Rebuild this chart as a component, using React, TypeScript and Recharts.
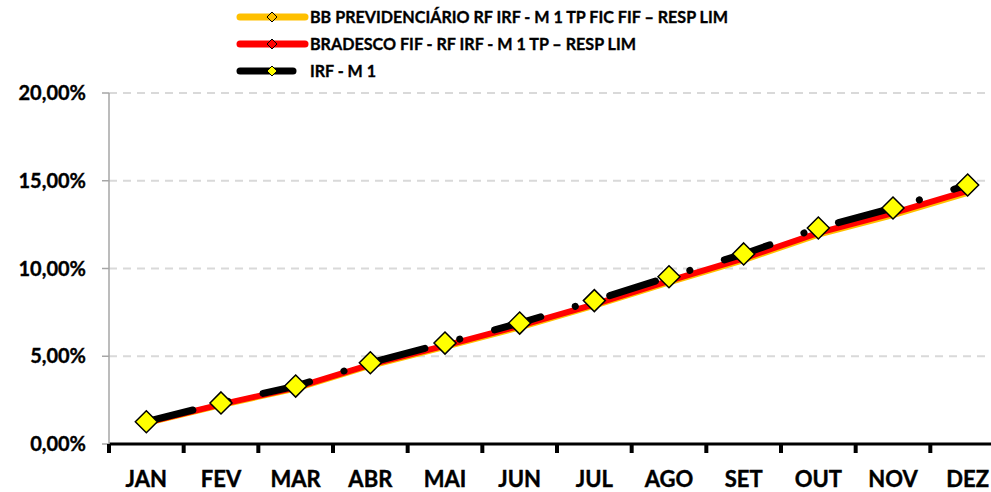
import { LineChart, Line, XAxis, YAxis, CartesianGrid, Legend } from "recharts";

/* ---------- Data ---------- */

const months = ["JAN", "FEV", "MAR", "ABR", "MAI", "JUN", "JUL", "AGO", "SET", "OUT", "NOV", "DEZ"];

const bbPrev = [1.19, 2.22, 3.16, 4.46, 5.54, 6.65, 7.88, 9.21, 10.48, 11.93, 13.04, 14.31];
const bradesco = [1.22, 2.26, 3.21, 4.52, 5.61, 6.73, 7.96, 9.3, 10.58, 12.03, 13.15, 14.42];
const irfm1 = [1.27, 2.34, 3.3, 4.63, 5.75, 6.89, 8.17, 9.53, 10.83, 12.31, 13.45, 14.76];

const yTicks = [0, 5, 10, 15, 20];

const seriesNames = [
  "BB PREVIDENCIÁRIO RF IRF - M 1 TP FIC FIF – RESP LIM",
  "BRADESCO FIF - RF IRF - M 1 TP – RESP LIM",
  "IRF - M 1",
];

// x = centre of each month's slot, so the tick marks can sit on the slot edges
const data = months.map((m, i) => ({
  x: i + 0.5,
  month: m,
  bb: bbPrev[i],
  bradesco: bradesco[i],
  irf: irfm1[i],
}));

const xTicks = Array.from({ length: 25 }, (_, i) => i / 2);

const FONT = "Lato, 'Open Sans', sans-serif";

/* ---------- Pieces ---------- */

const fmtPct = (v: number) => v.toFixed(2).replace(".", ",") + "%";

function MonthTick({ x, y, payload }: any) {
  const v = payload.value as number;
  if (Number.isInteger(v)) {
    return <line x1={x} x2={x} y1={y} y2={y + 9} stroke="#000" strokeWidth={4} />;
  }
  return (
    <text
      x={x}
      y={y + 43}
      textAnchor="middle"
      fontFamily={FONT}
      fontWeight={700}
      fontSize={22}
      fill="#000"
      stroke="#000"
      strokeWidth={0.4}
    >
      {months[Math.floor(v)]}
    </text>
  );
}

function Diamond({ cx, cy, index }: any) {
  const r = 11;
  return (
    <polygon
      key={`d-${index}`}
      points={`${cx},${cy - r} ${cx + r},${cy} ${cx},${cy + r} ${cx - r},${cy}`}
      fill="#FFFF00"
      stroke="#000"
      strokeWidth={1.5}
    />
  );
}

const legendRows = [
  { line: "#FFC000", fill: "#FFC000", end: 69, width: 418 },
  { line: "#FF0000", fill: "#FF0000", end: 69, width: 326 },
  { line: "#000000", fill: "#FFFF00", end: 57, width: 66 },
];

function LegendBox() {
  return (
    <svg width={520} height={85}>
      {legendRows.map((r, i) => {
        const cy = 17 + i * 27;
        return (
          <g key={i}>
            <line x1={4} x2={r.end} y1={cy} y2={cy} stroke={r.line} strokeWidth={7} strokeLinecap="round" />
            <polygon
              points={`36,${cy - 5} 41,${cy} 36,${cy + 5} 31,${cy}`}
              fill={r.fill}
              stroke="#000"
              strokeWidth={1}
            />
            <text
              x={74}
              y={cy + 6}
              fontFamily={FONT}
              fontWeight={700}
              fontSize={17}
              textLength={r.width}
              lengthAdjust="spacingAndGlyphs"
              fill="#000"
              stroke="#000"
              strokeWidth={0.35}
            >
              {seriesNames[i]}
            </text>
          </g>
        );
      })}
    </svg>
  );
}

/* ---------- Component ---------- */

export default function App() {
  return (
    <div style={{ position: "absolute", left: 0, top: 0, width: 991, height: 492, overflow: "hidden", background: "#fff" }}>
      <LineChart width={1010} height={492} data={data} margin={{ top: 93, right: 5, bottom: 0, left: 0 }}>
        <CartesianGrid horizontal vertical={false} stroke="#D9D9D9" strokeWidth={2} strokeDasharray="8 6" />
        <XAxis
          dataKey="x"
          type="number"
          domain={[0, 12]}
          ticks={xTicks}
          interval={0}
          height={48}
          tickLine={false}
          tickSize={0}
          tickMargin={0}
          axisLine={{ stroke: "#000", strokeWidth: 3 }}
          tick={<MonthTick />}
        />
        <YAxis
          type="number"
          domain={[0, 20]}
          ticks={yTicks}
          width={109}
          interval={0}
          tickSize={7}
          tickMargin={16}
          axisLine={{ stroke: "#A6A6A6", strokeWidth: 1.5 }}
          tickLine={{ stroke: "#A6A6A6", strokeWidth: 1.5 }}
          tickFormatter={fmtPct}
          tick={{ fontFamily: FONT, fontWeight: 700, fontSize: 20, fill: "#000", stroke: "#000", strokeWidth: 0.35 }}
        />
        <Legend
          verticalAlign="middle"
          align="center"
          layout="horizontal"
          wrapperStyle={{ top: 0, left: 236, width: 520, height: 85 }}
          content={() => <LegendBox />}
        />
        <Line
          dataKey="bb"
          name={seriesNames[0]}
          type="linear"
          stroke="#FFC000"
          strokeWidth={6}
          dot={false}
          activeDot={false}
          isAnimationActive={false}
        />
        <Line
          dataKey="bradesco"
          name={seriesNames[1]}
          type="linear"
          stroke="#FF0000"
          strokeWidth={6}
          dot={false}
          activeDot={false}
          isAnimationActive={false}
        />
        <Line
          dataKey="irf"
          name={seriesNames[2]}
          type="linear"
          stroke="#000"
          strokeWidth={7}
          strokeLinecap="round"
          strokeDasharray="48 36 0.1 36"
          dot={<Diamond />}
          activeDot={false}
          isAnimationActive={false}
        />
      </LineChart>
    </div>
  );
}
